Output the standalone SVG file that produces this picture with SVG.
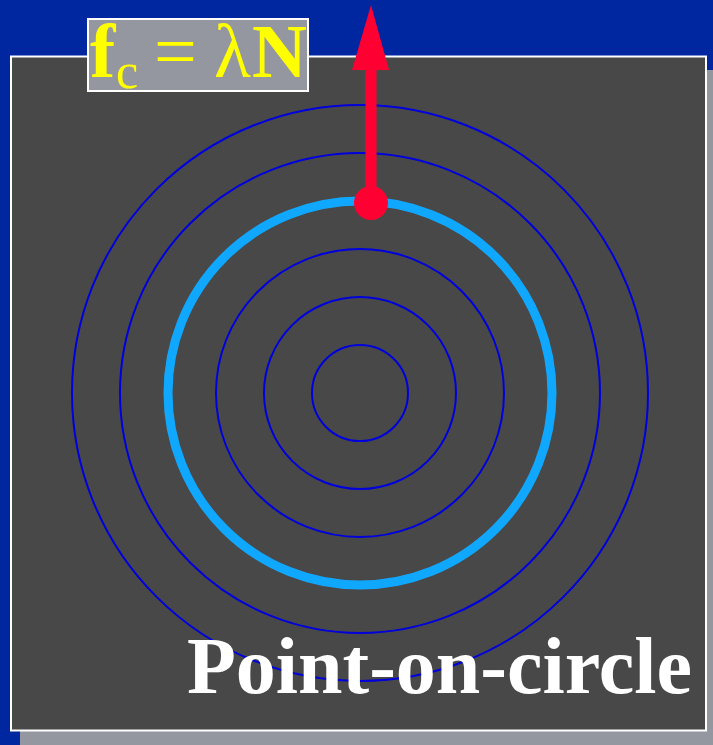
<svg xmlns="http://www.w3.org/2000/svg" width="713" height="745" viewBox="0 0 713 745">
<style>
.ring{fill:none;stroke:#0000DD;stroke-width:2}
.ser{font-family:"Liberation Serif","Times New Roman",serif}
</style>
<rect x="0" y="0" width="713" height="745" fill="#0026A0"/>
<rect x="20" y="70" width="693" height="675" fill="#9496A0"/>
<g id="panel">
<rect x="11" y="56.5" width="695" height="674" fill="#484848" stroke="#FFFFFF" stroke-width="2"/>
</g>
<g id="rings">
<circle class="ring" cx="360" cy="393" r="48"/>
<circle class="ring" cx="360" cy="393" r="96"/>
<circle class="ring" cx="360" cy="393" r="144"/>
<circle class="ring" cx="360" cy="393" r="240"/>
<circle class="ring" cx="360" cy="393" r="288"/>
</g>
<g id="circle">
<circle cx="360" cy="393" r="192" fill="none" stroke="#10A8FF" stroke-width="9"/>
</g>
<g id="connectors">
<line x1="371" y1="203" x2="371" y2="66" stroke="#FF0033" stroke-width="11"/>
<polygon points="371,5 389,70 352,70" fill="#FF0033"/>
</g>
<g id="point">
<circle cx="371" cy="203" r="17" fill="#FF0033"/>
</g>
<g id="label">
<rect x="88" y="19" width="220" height="72" fill="#9496A0" stroke="#FFFFFF" stroke-width="2"/>
<text class="ser" fill="#FFFF00" font-size="76"><tspan x="90" y="77" font-weight="bold">f</tspan><tspan x="116" y="88" font-size="50">c</tspan><tspan x="154" y="77">=</tspan><tspan x="214" y="77">λ</tspan><tspan x="252" y="77" font-weight="bold">N</tspan></text>
</g>
<g id="title">
<text class="ser" x="187" y="693" fill="#FFFFFF" font-size="80" font-weight="bold" textLength="505" lengthAdjust="spacingAndGlyphs">Point-on-circle</text>
</g>
</svg>
